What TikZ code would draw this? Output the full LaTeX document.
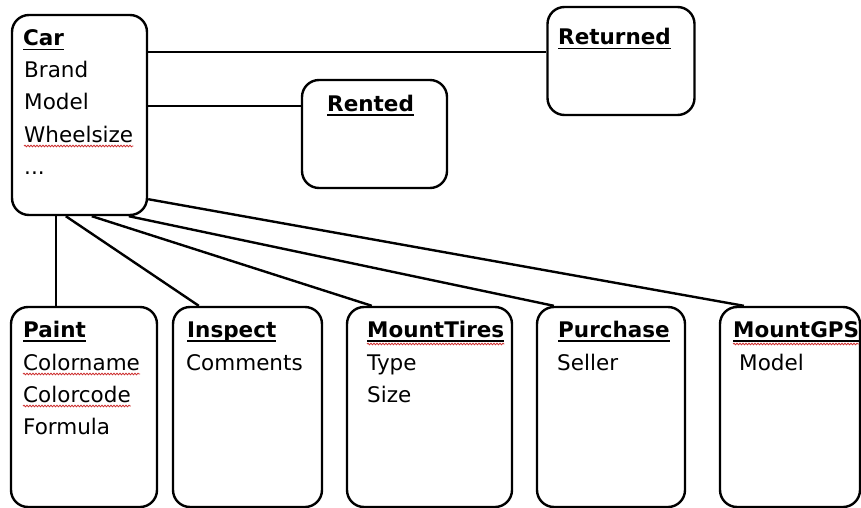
\documentclass[tikz,border=0pt]{standalone}
\usepackage{fontspec}
\setmainfont{DejaVu Sans}
\usetikzlibrary{calc,decorations.pathmorphing}

% bold heading with a fixed-offset underline
\newcommand\hdr[1]{\setbox0\hbox{\bfseries #1}\rlap{\rule[-4.5pt]{\wd0}{1.8pt}}\box0}

\tikzset{
  entity/.style={draw=black, line width=2.4pt, rounded corners=17pt, fill=white, inner sep=0pt},
  link/.style={draw=black, line width=2.4pt},
  txt/.style={anchor=base west, inner sep=0pt, font=\fontsize{21.5}{26}\selectfont},
  squiggle/.style={draw={rgb,255:red,205;green,45;blue,45}, line width=0.8pt,
    decorate, decoration={snake, segment length=3pt, amplitude=0.8pt}}
}

\begin{document}
\begin{tikzpicture}[x=1pt,y=-1pt]
\useasboundingbox[fill=white] (0,0) rectangle (861,508);

% boxes
\node[entity, minimum width=135pt, minimum height=200pt] (car)      at (79.5,115) {};
\node[entity, minimum width=147pt, minimum height=108pt] (returned) at (621,61)   {};
\node[entity, minimum width=145pt, minimum height=108pt] (rented)   at (374.5,134) {};
\node[entity, minimum width=146pt, minimum height=200pt] (paint)    at (84,407)   {};
\node[entity, minimum width=149pt, minimum height=200pt] (inspect)  at (247.5,407) {};
\node[entity, minimum width=165pt, minimum height=200pt] (tires)    at (429.5,407) {};
\node[entity, minimum width=148pt, minimum height=200pt] (purchase) at (611,407)  {};
\node[entity, minimum width=140pt, minimum height=200pt] (gps)      at (790,407)  {};

% connectors
\coordinate (cRet)  at (car.east |- 0,52);
\coordinate (cRent) at (car.east |- 0,106);
\draw[link] (cRet)  -- (cRet -| returned.west);
\draw[link] (cRent) -- (cRent -| rented.west);

\coordinate (cPaint) at ($(car.south west)+(45,0)$);
\draw[link] (cPaint) -- (cPaint |- paint.north);
\draw[link] ($(car.south west)+(55,0)$)  -- ($(inspect.north west)+(27,0)$);
\draw[link] ($(car.south west)+(81,0)$)  -- ($(tires.north west)+(26,0)$);
\draw[link] ($(car.south west)+(118,0)$) -- ($(purchase.north west)+(18,0)$);
\draw[link] ($(car.south east)+(0,-17)$) -- ($(gps.north west)+(25,0)$);

% Car
\node[txt] (tCar)   at (23,46)  {\hdr{Car}};
\node[txt] (tBrand) at (24,78)  {Brand};
\node[txt] (tModel) at (24,110) {Model};
\node[txt] (tWheel) at (24,142) {Wheelsize};
\node[txt] (tDots)  at (24,174) {...};

% Rented / Returned
\node[txt] (tRented)   at (327,111) {\hdr{Rented}};
\node[txt] (tReturned) at (558,45)  {\hdr{Returned}};

% Paint
\node[txt] (tPaint)  at (23,337) {\hdr{Paint}};
\node[txt] (tCname)  at (23,370) {Colorname};
\node[txt] (tCcode)  at (23,402) {Colorcode};
\node[txt] (tFormula) at (23,434) {Formula};

% Inspect
\node[txt] (tInspect)  at (187,337) {\hdr{Inspect}};
\node[txt] (tComments) at (186,370) {Comments};

% MountTires
\node[txt] (tTires) at (367,337) {\hdr{MountTires}};
\node[txt] (tType)  at (367,370) {Type};
\node[txt] (tSize)  at (367,402) {Size};

% Purchase
\node[txt] (tPurchase) at (558,337) {\hdr{Purchase}};
\node[txt] (tSeller)   at (557,370) {Seller};

% MountGPS
\node[txt] (tGps)      at (733,337) {\hdr{MountGPS}};
\node[txt] (tGpsModel) at (739,370) {Model};

% spell-check marks
\foreach \w in {tWheel,tCname,tCcode}
  \draw[squiggle] ($(\w.base west)+(0,4)$) -- ($(\w.base east)+(0,4)$);
\foreach \w in {tTires,tGps}
  \draw[squiggle] ($(\w.base west)+(0,7)$) -- ($(\w.base east)+(0,7)$);
\end{tikzpicture}
\end{document}
